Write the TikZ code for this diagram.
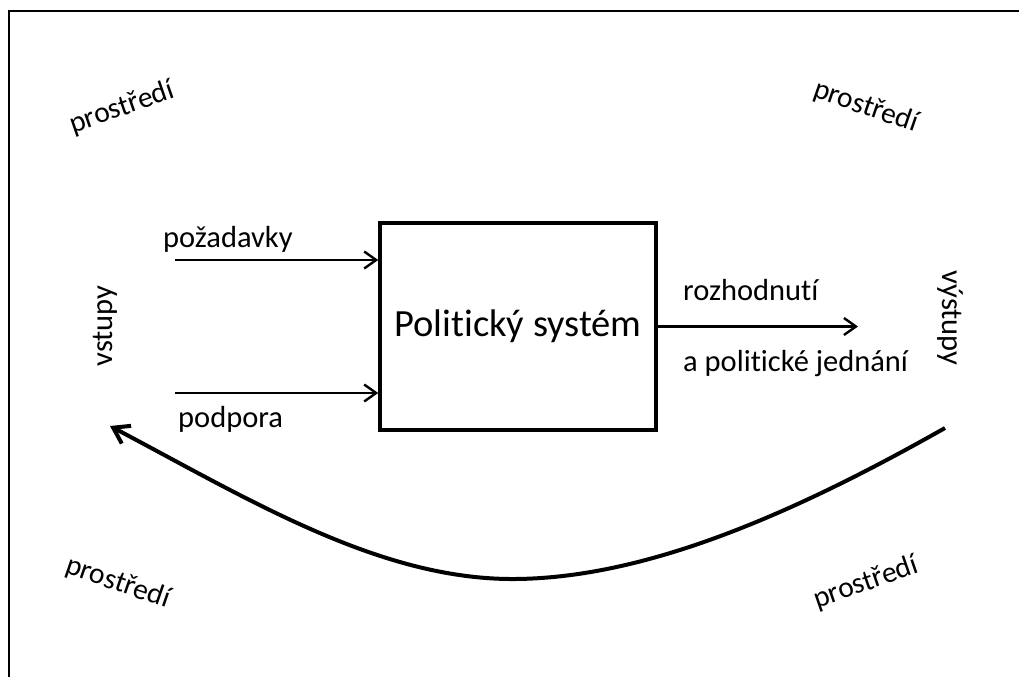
\documentclass[tikz,border=0pt]{standalone}
\usepackage{fontspec}
\setmainfont{Carlito}[Ligatures={NoCommon}]
\usetikzlibrary{arrows.meta}
\tikzset{
  lbl/.style={inner sep=0pt, font=\fontsize{30.5}{32}\selectfont},
  env/.style={inner sep=0pt, font=\fontsize{29.5}{31}\selectfont},
  sysbox/.style={draw, line width=3.5pt, minimum width=276pt, minimum height=207pt, inner sep=0pt, font=\fontsize{38.5}{42}\selectfont},
  thinarrow/.style={line width=2.4pt, -{Straight Barb[length=12pt,width=17pt]}},
  bigarrow/.style={line width=4pt, -{Straight Barb[length=15pt,width=20pt]}},
}
\begin{document}
\begin{tikzpicture}[x=1pt,y=1pt]
\useasboundingbox (0,0) rectangle (1019,-677);
\draw[line width=1.6pt] (9,-677) -- (9,-10.8) -- (1019,-10.8);

\node[sysbox] (sys) at (518,-326.5) {Politický systém};

\coordinate (inA) at (175,-260);
\coordinate (inB) at (175,-393);
\coordinate (outE) at (858,-326.5);
\coordinate (fbS) at (945,-428);
\coordinate (fbM) at (515,-579);
\coordinate (fbE) at (110,-426);

\draw[thinarrow] (inA) -- (inA -| sys.west);
\draw[thinarrow] (inB) -- (inB -| sys.west);
\draw[thinarrow] (sys.east) -- (outE);
\draw[bigarrow] (fbS) .. controls (800,-510) and (650,-578) .. (fbM)
  .. controls (380,-580) and (250,-500) .. (fbE);

\node[lbl, anchor=base west] (poz) at (163,-247) {požadavky};
\node[lbl, anchor=base west] (podp) at (178,-427) {podpora};
\node[lbl, anchor=base west] (roz) at (683,-300) {rozhodnutí};
\node[lbl, anchor=base west] (jed) at (683,-371) {a politické jednání};
\node[lbl, rotate=90] (vst) at (105,-326) {vstupy};
\node[lbl, rotate=-90] (vyst) at (950,-318) {výstupy};

\node[env, rotate=19] (p1) at (122,-108) {prostředí};
\node[env, rotate=-19] (p2) at (866,-107) {prostředí};
\node[env, rotate=-19] (p3) at (118,-583) {prostředí};
\node[env, rotate=19] (p4) at (866,-583) {prostředí};
\end{tikzpicture}
\end{document}
